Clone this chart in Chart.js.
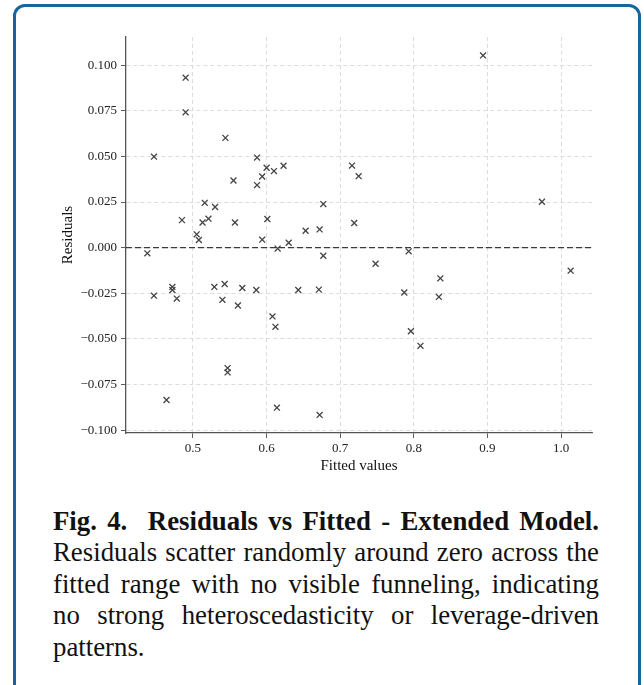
<!DOCTYPE html>
<html>
<head>
<meta charset="utf-8">
<script src="https://cdn.jsdelivr.net/npm/chart.js@4"></script>
<style>
  html, body { margin: 0; padding: 0; background: #fff; }
  body { width: 644px; height: 685px; position: relative; overflow: hidden; font-family: "Liberation Serif", serif; }
  .frame { position: absolute; left: 13px; top: 4px; width: 628px; height: 740px; box-sizing: border-box;
           border: 3px solid #17659d; border-radius: 12px; }
  .plot { position: absolute; left: 0; top: 0; width: 644px; height: 480px; }
  .caption { position: absolute; left: 53px; top: 506px; width: 546px; font-family: "Liberation Serif", serif;
             font-size: 26.8px; line-height: 31.4px; color: #111; }
  .caption .head { font-weight: bold; text-align: justify; text-align-last: justify; }
  .caption .body { text-align: justify; }
</style>
</head>
<body>
<div class="frame"></div>
<div class="plot"><canvas id="residPlot"></canvas></div>
<div class="caption">
  <div class="head">Fig. 4.&nbsp; Residuals vs Fitted - Extended Model.</div>
  <div class="body">Residuals scatter randomly around zero across the fitted range with no visible funneling, indicating no strong heteroscedasticity or leverage-driven patterns.</div>
</div>
<script>
// values
const fittedValues = [
  0.447, 0.490, 0.490, 0.485, 0.505, 0.508, 0.513, 0.516, 0.521, 0.530,
  0.544, 0.555, 0.557, 0.587, 0.587, 0.594, 0.600, 0.594, 0.601, 0.610,
  0.623, 0.615, 0.630, 0.653, 0.672, 0.677, 0.894, 0.716, 0.725, 0.719,
  0.974, 0.438, 0.447, 0.472, 0.472, 0.478, 0.464, 0.529, 0.543, 0.540,
  0.567, 0.561, 0.586, 0.547, 0.547, 0.608, 0.612, 0.614, 0.643, 0.671,
  0.677, 0.672, 0.793, 0.748, 0.787, 0.836, 0.834, 0.796, 0.809, 1.013
];
const residuals = [
  0.0499, 0.0932, 0.0742, 0.0151, 0.0073, 0.0042, 0.0138, 0.0246, 0.0159, 0.0223,
  0.0602, 0.0368, 0.0138, 0.0494, 0.0343, 0.0390, 0.0438, 0.0044, 0.0157, 0.0420,
  0.0449, -0.0005, 0.0027, 0.0093, 0.0100, 0.0239, 0.1054, 0.0450, 0.0392, 0.0135,
  0.0252, -0.0031, -0.0263, -0.0215, -0.0232, -0.0279, -0.0835, -0.0215, -0.0199, -0.0286,
  -0.0221, -0.0317, -0.0232, -0.0660, -0.0684, -0.0377, -0.0434, -0.0877, -0.0232, -0.0230,
  -0.0044, -0.0917, -0.0020, -0.0088, -0.0246, -0.0168, -0.0270, -0.0458, -0.0538, -0.0126
];
const xRange = [0.409, 1.042];
const yRange = [-0.1016, 0.1155];
const xStep = 0.1;
const yStep = 0.025;

const points = fittedValues.map((f, i) => ({ x: f, y: residuals[i] }));
const serif = '"Liberation Serif", "Times New Roman", serif';

// dashed horizontal reference at zero residual
const zeroLine = {
  id: 'zeroLine',
  afterDatasetsDraw(chart) {
    const { ctx, chartArea, scales } = chart;
    const y = scales.y.getPixelForValue(0);
    ctx.save();
    ctx.strokeStyle = '#3a3a3a';
    ctx.lineWidth = 1.3;
    ctx.setLineDash([6, 3]);
    ctx.beginPath();
    ctx.moveTo(chartArea.left, y);
    ctx.lineTo(chartArea.right, y);
    ctx.stroke();
    ctx.restore();
  }
};

const fmt = (v, d) => v.toFixed(d).replace('-', '\u2212');

new Chart(document.getElementById('residPlot'), {
  type: 'scatter',
  data: {
    datasets: [{
      data: points,
      pointStyle: 'crossRot',
      pointRadius: 4.2,
      borderColor: '#444',
      borderWidth: 1.3,
      backgroundColor: '#444'
    }]
  },
  options: {
    responsive: true,
    maintainAspectRatio: false,
    animation: false,
    layout: { padding: { left: 46, top: 37, right: 52, bottom: 0 } },
    plugins: { legend: { display: false }, tooltip: { enabled: false } },
    scales: {
      x: {
        type: 'linear',
        min: xRange[0],
        max: xRange[1],
        afterFit(s) { s.height = 47; },
        ticks: {
          stepSize: xStep,
          includeBounds: false,
          padding: 3,
          color: '#222',
          font: { family: serif, size: 13 },
          callback: v => fmt(v, 1)
        },
        grid: { color: '#d4d4d4', lineWidth: 0.8, tickColor: '#333', tickLength: 5, tickBorderDash: [] },
        border: { display: true, color: '#555', width: 1.3, dash: [4, 3] },
        title: { display: true, text: 'Fitted values', color: '#111',
                 font: { family: serif, size: 15 }, padding: { top: 0, bottom: 5 } }
      },
      y: {
        type: 'linear',
        min: yRange[0],
        max: yRange[1],
        afterFit(s) { s.width = 80; },
        ticks: {
          stepSize: yStep,
          includeBounds: false,
          padding: 4,
          color: '#222',
          font: { family: serif, size: 13 },
          callback: v => fmt(v, 3)
        },
        grid: { color: '#d4d4d4', lineWidth: 0.8, tickColor: '#333', tickLength: 5, tickBorderDash: [] },
        border: { display: true, color: '#555', width: 1.3, dash: [4, 3] },
        title: { display: true, text: 'Residuals', color: '#111',
                 font: { family: serif, size: 15 }, padding: { top: 13, bottom: 0 } }
      }
    }
  },
  plugins: [zeroLine]
});
</script>
</body>
</html>
